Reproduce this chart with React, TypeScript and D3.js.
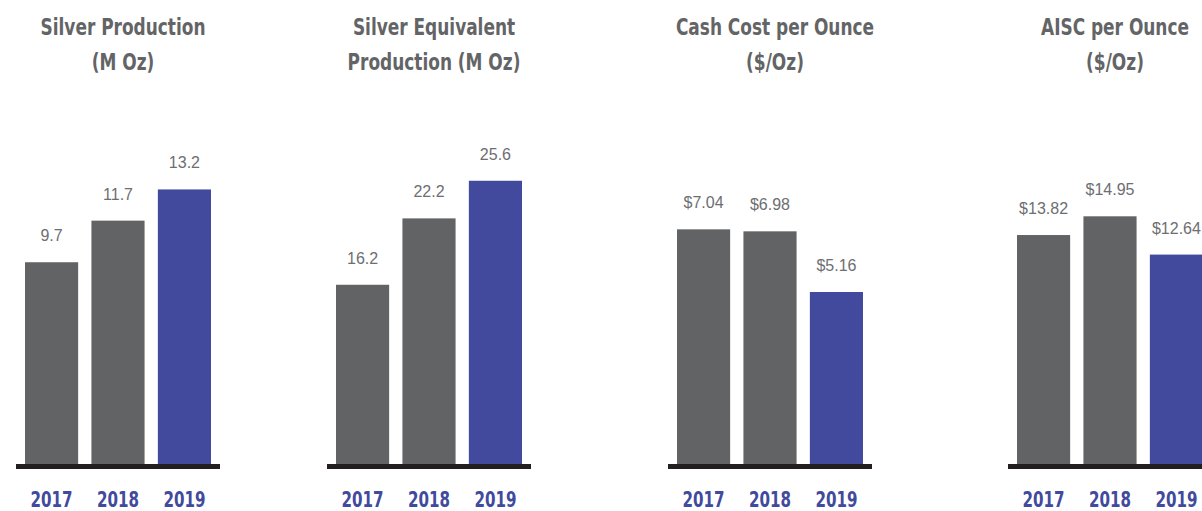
import * as d3 from "d3";

const years = ["2017", "2018", "2019"];

const silverProduction = [9.7, 11.7, 13.2];
const silverEquivalent = [16.2, 22.2, 25.6];
const cashCost = [7.04, 6.98, 5.16];
const aiscCost = [13.82, 14.95, 12.64];

const panelTitles = [
  ["Silver Production", "(M Oz)"],
  ["Silver Equivalent", "Production (M Oz)"],
  ["Cash Cost per Ounce", "($/Oz)"],
  ["AISC per Ounce", "($/Oz)"],
];
const panelValues = [silverProduction, silverEquivalent, cashCost, aiscCost];
const panelFormats = [d3.format(".1f"), d3.format(".1f"), d3.format("$.2f"), d3.format("$.2f")];
// top of the value axis for each panel (the charts are not on one scale)
const panelAxisMax = [17.5, 32.9, 10.92, 21.97];
// left edge of each panel's baseline
const panelLeft = [16, 327, 668, 1008];

const width = 1202;
const height = 511;
const baseline = 464;
const plotTop = 100;
const panelWidth = 204;

const grey = "#626365";
const blue = "#414a9d";
const textGrey = "#636466";
// no narrow font installed, so squeeze a condensed one horizontally
const titleFont = "'DejaVu Sans Condensed', 'DejaVu Sans', sans-serif";

export default function App() {
  const xScale = d3.scaleBand<string>()
    .domain(years)
    .range([9, 195])
    .paddingInner(0.2)
    .paddingOuter(0);

  return (
    <svg
      width={width}
      height={height}
      viewBox={`0 0 ${width} ${height}`}
      style={{ position: "absolute", left: 0, top: 0, background: "#fff" }}
    >
      {panelValues.map((values, p) => {
        const yScale = d3.scaleLinear()
          .domain([0, panelAxisMax[p]])
          .range([baseline, plotTop]);
        const fmt = panelFormats[p];
        const center = xScale.range()[0] + (xScale.range()[1] - xScale.range()[0]) / 2 + 5;

        return (
          <g key={p} transform={`translate(${panelLeft[p]}, 0)`}>
            {panelTitles[p].map((line, i) => (
              <text
                key={line}
                transform={`translate(${center}, ${35 + i * 35}) scale(0.82, 1)`}
                textAnchor="middle"
                fontFamily={titleFont}
                fontWeight="bold"
                fontSize={23}
                fill={textGrey}
              >
                {line}
              </text>
            ))}

            {values.map((v, i) => {
              const x = xScale(years[i]) ?? 0;
              const y = yScale(v);
              const cx = x + xScale.bandwidth() / 2;
              return (
                <g key={years[i]}>
                  <rect
                    x={x}
                    y={y}
                    width={xScale.bandwidth()}
                    height={baseline + 2 - y}
                    fill={i === years.length - 1 ? blue : grey}
                  />
                  <text
                    x={cx}
                    y={y - 21}
                    textAnchor="middle"
                    fontFamily="'Liberation Sans', Arial, sans-serif"
                    fontSize={16}
                    fill="#6d6e71"
                  >
                    {fmt(v)}
                  </text>
                  <text
                    transform={`translate(${cx}, 507) scale(0.8, 1)`}
                    textAnchor="middle"
                    fontFamily={titleFont}
                    fontWeight="bold"
                    fontSize={21}
                    fill={blue}
                  >
                    {years[i]}
                  </text>
                </g>
              );
            })}

            <rect
              x={0}
              y={baseline}
              width={panelWidth}
              height={5}
              fill="#231f20"
            />
          </g>
        );
      })}
    </svg>
  );
}
